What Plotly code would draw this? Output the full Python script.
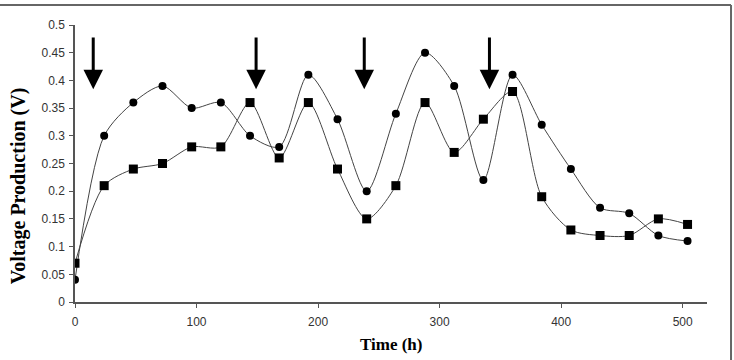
import plotly.graph_objects as go

time_h = [0, 24, 48, 72, 96, 120, 144, 168, 192, 216, 240, 264, 288, 312, 336, 360, 384, 408, 432, 456, 480, 504]
series_circle = [0.04, 0.30, 0.36, 0.39, 0.35, 0.36, 0.30, 0.28, 0.41, 0.33, 0.20, 0.34, 0.45, 0.39, 0.22, 0.41, 0.32, 0.24, 0.17, 0.16, 0.12, 0.11]
series_square = [0.07, 0.21, 0.24, 0.25, 0.28, 0.28, 0.36, 0.26, 0.36, 0.24, 0.15, 0.21, 0.36, 0.27, 0.33, 0.38, 0.19, 0.13, 0.12, 0.12, 0.15, 0.14]
arrow_x = [15, 149, 238, 341]
arrow_top = 0.48
arrow_tip = 0.384
x_ticks = [0, 100, 200, 300, 400, 500]
y_ticks = [0, 0.05, 0.1, 0.15, 0.2, 0.25, 0.3, 0.35, 0.4, 0.45, 0.5]
y_ticktext = ["0", "0.05", "0.1", "0.15", "0.2", "0.25", "0.3", "0.35", "0.4", "0.45", "0.5"]

fig = go.Figure()
fig.add_trace(go.Scatter(
    x=time_h, y=series_circle, mode="lines+markers",
    line=dict(shape="spline", smoothing=0.8, color="#444", width=1),
    marker=dict(symbol="circle", size=8, color="black"),
    showlegend=False))
fig.add_trace(go.Scatter(
    x=time_h, y=series_square, mode="lines+markers",
    line=dict(shape="spline", smoothing=0.8, color="#444", width=1),
    marker=dict(symbol="square", size=9, color="black"),
    showlegend=False))

for ax_ in arrow_x:
    fig.add_annotation(
        x=ax_, y=arrow_tip, ax=ax_, ay=arrow_top,
        xref="x", yref="y", axref="x", ayref="y",
        text="", showarrow=True, arrowhead=2, arrowsize=1.3,
        arrowwidth=3, arrowcolor="black")

frame_col = "#666"
fig.add_shape(type="line", xref="paper", yref="paper",
              x0=-0.125, x1=1.038, y0=1.072, y1=1.072,
              line=dict(color=frame_col, width=2))
fig.add_shape(type="line", xref="paper", yref="paper",
              x0=1.038, x1=1.038, y0=1.072, y1=-0.22,
              line=dict(color=frame_col, width=2))

tick_font = dict(family="Liberation Sans, Arial", size=12, color="#333")
serif = "Liberation Serif, Times New Roman"

fig.add_annotation(
    text="<b>Voltage Production (V)</b>", xref="paper", yref="paper",
    x=-0.088, y=0.419, xanchor="center", yanchor="middle",
    textangle=-90, showarrow=False,
    font=dict(family=serif, size=20, color="black"))
fig.add_annotation(
    text="<b>Time (h)</b>", xref="paper", yref="paper",
    x=0.5, y=-0.155, xanchor="center", yanchor="middle",
    showarrow=False,
    font=dict(family=serif, size=17, color="black"))

fig.update_xaxes(
    range=[0, 520], tickvals=x_ticks,
    ticks="outside", ticklen=4, tickcolor="#555",
    showline=True, linecolor="#555", linewidth=1.5,
    showgrid=False, zeroline=False, tickfont=tick_font,
    ticklabelstandoff=4)
fig.update_yaxes(
    range=[0, 0.5], tickvals=y_ticks, ticktext=y_ticktext,
    ticks="outside", ticklen=4, tickcolor="#555",
    showline=True, linecolor="#555", linewidth=1.5,
    showgrid=False, zeroline=False, tickfont=tick_font,
    ticklabelstandoff=2)

fig.update_layout(
    width=734, height=360,
    margin=dict(l=75, r=27, t=25, b=58),
    paper_bgcolor="white", plot_bgcolor="white",
)

fig.write_html("out.html")
